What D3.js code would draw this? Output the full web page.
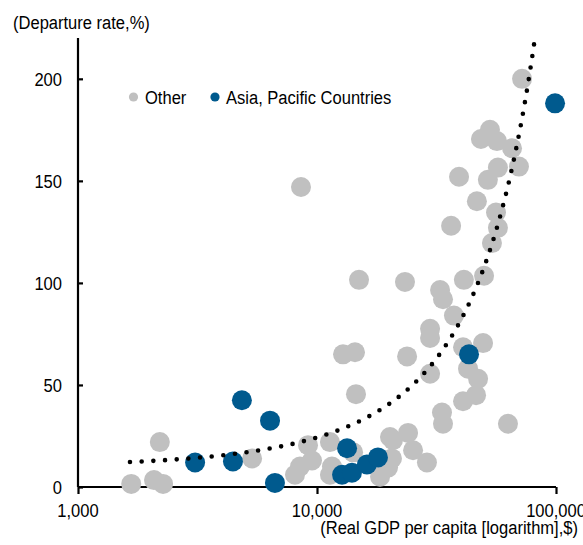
<!DOCTYPE html>
<html>
<head>
<meta charset="utf-8">
<script src="https://cdn.jsdelivr.net/npm/d3@7"></script>
<style>
  html, body { margin: 0; padding: 0; background: #fff; }
  svg { display: block; }
  text { font-family: "Liberation Sans", Arial, sans-serif; fill: #000; }
</style>
</head>
<body>
<svg id="chart" width="583" height="545"></svg>
<script>
// Real GDP per capita ($) and departure rate (%) by country
const otherPoints = [
  [1670, 1.5], [2080, 3.4], [2270, 1.5], [2200, 22], [5350, 14], [8570, 147],
  [8090, 6], [8490, 10], [9170, 20.5], [9530, 13], [11330, 22], [11550, 10],
  [11330, 6], [14160, 17], [12850, 65], [14420, 66], [14560, 45.5], [14990, 101.5],
  [18360, 5], [20200, 24.5], [20800, 23], [20590, 14], [19830, 9.5], [24040, 26.5],
  [25230, 18], [28840, 12], [23340, 100.5], [23820, 64], [32730, 96.5], [33670, 92],
  [29720, 77.5], [29720, 73], [29720, 55.5], [37410, 84], [41170, 101.5], [50000, 103.5],
  [40830, 68.5], [49520, 70.5], [42840, 58], [47200, 53], [46290, 45], [40830, 42],
  [33340, 36.5], [33670, 31], [62950, 31], [36400, 128], [39290, 152], [46660, 140],
  [51880, 150.5], [57150, 156.5], [69980, 157], [48530, 170.5], [52930, 175], [56620, 169.5],
  [65460, 166], [56100, 134.5], [57150, 127], [53950, 119.5], [72110, 200]
];
const asiaPoints = [
  [3090, 12], [4450, 12.5], [4850, 42.5], [6360, 32.5], [6670, 2], [13360, 19],
  [12730, 6], [14000, 7], [16180, 11], [17990, 14.5], [43250, 65], [99090, 188]
];
// Polynomial trend (order 3) of departure rate against GDP per capita
const trendCoeffs = [10.02, 1.3377e-3, 7.890e-9, 8.855e-14];
const trendStart = 1650;

const seriesNames = ["Other", "Asia, Pacific Countries"];
const seriesColors = ["#c0c0c0", "#005a8e"];
const xTicks = [1000, 10000, 100000];
const yTicks = [0, 50, 100, 150, 200];
const yTitle = "(Departure rate,%)";
const xTitle = "(Real GDP per capita [logarithm],$)";

const svg = d3.select("#chart");
const FS = 18.8, SX = 0.88;

const x = d3.scaleLog().domain([1000, 100000]).range([78, 556]);
const y = d3.scaleLinear().domain([0, 220]).range([487, 38]);

function label(g, tx, ty, str, anchor) {
  return g.append("text")
    .attr("transform", `translate(${tx},${ty}) scale(${SX},1)`)
    .attr("text-anchor", anchor || "start")
    .style("font-size", FS + "px")
    .text(str);
}

// Axes
const yAxis = svg.append("g").attr("transform", "translate(78,0)")
  .call(d3.axisRight(y).tickValues(yTicks).tickSize(5).tickFormat(""));
const xAxis = svg.append("g").attr("transform", "translate(0,487)")
  .call(d3.axisBottom(x).tickValues(xTicks).tickSize(7).tickFormat(""));
[yAxis, xAxis].forEach(a => {
  a.select(".domain").attr("stroke", "#000").attr("stroke-width", 2.2);
  a.selectAll(".tick line").attr("stroke", "#000").attr("stroke-width", 2.2);
});
yAxis.select(".domain").attr("d", `M0,${y(0)}V${y(220)}`);
xAxis.select(".domain").attr("d", `M${x(1000)},0H${x(100000)}`);

const fmt = d3.format(",");
yTicks.forEach(v => label(svg, 62, y(v) + 7, String(v), "end"));
xTicks.forEach(v => label(svg, x(v), 516.5, fmt(v), "middle"));

label(svg, 13, 29, yTitle, "start");
label(svg, 578, 534, xTitle, "end");

// Points
const R = 10;
svg.append("g").selectAll("circle").data(otherPoints).join("circle")
  .attr("cx", d => x(d[0])).attr("cy", d => y(d[1])).attr("r", R)
  .attr("fill", seriesColors[0]);
svg.append("g").selectAll("circle").data(asiaPoints).join("circle")
  .attr("cx", d => x(d[0])).attr("cy", d => y(d[1])).attr("r", R)
  .attr("fill", seriesColors[1]);

// Trend line, clipped to the plot area
svg.append("clipPath").attr("id", "plotClip").append("rect")
  .attr("x", 70).attr("y", y(220)).attr("width", 520).attr("height", y(0) - y(220) + 10);
const trend = v => trendCoeffs.reduce((s, c, i) => s + c * Math.pow(v, i), 0);
const samples = d3.range(0, 401).map(i => trendStart * Math.pow(100000 / trendStart, i / 400))
  .filter(v => trend(v) <= 240);
svg.append("path")
  .attr("clip-path", "url(#plotClip)")
  .attr("d", d3.line().x(v => x(v)).y(v => y(trend(v)))(samples))
  .attr("fill", "none").attr("stroke", "#000")
  .attr("stroke-width", 4.6).attr("stroke-linecap", "round")
  .attr("stroke-dasharray", "0 11.7");

// Legend
const legend = [[133.5, 145], [215, 226]];
seriesNames.forEach((name, i) => {
  svg.append("circle").attr("cx", legend[i][0]).attr("cy", 97).attr("r", 4.6)
    .attr("fill", seriesColors[i]);
  label(svg, legend[i][1], 104, name, "start");
});
</script>
</body>
</html>
